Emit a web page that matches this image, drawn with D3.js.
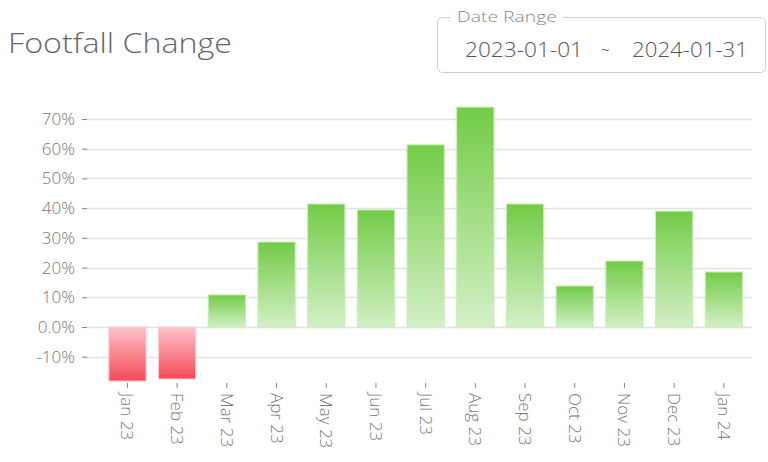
<!DOCTYPE html>
<html>
  <head>
    <meta charset="utf-8" />
    <script src="https://cdn.jsdelivr.net/npm/d3@7"></script>
    <style>
      body {
        margin: 0;
        background: #fff;
        font-family: "Open Sans", "Noto Sans", sans-serif;
      }
    </style>
  </head>
  <body>
    <script>
      // values (percent change)
      var months = ["Jan 23", "Feb 23", "Mar 23", "Apr 23", "May 23", "Jun 23", "Jul 23",
        "Aug 23", "Sep 23", "Oct 23", "Nov 23", "Dec 23", "Jan 24"];
      var change = [-18.2, -17.5, 10.8, 28.6, 41.4, 39.4, 61.3, 74.0, 41.4, 13.8, 22.2, 39.0, 18.5];
      var yTicks = [-10, 0, 10, 20, 30, 40, 50, 60, 70];
      var dateFrom = "2023-01-01";
      var dateTo = "2024-01-31";

      var width = 768, height = 462;

      var svg = d3.select("body").append("svg")
        .attr("width", width)
        .attr("height", height);

      var defs = svg.append("defs");
      var gGreen = defs.append("linearGradient").attr("id", "green")
        .attr("x1", 0).attr("y1", 0).attr("x2", 0).attr("y2", 1);
      gGreen.append("stop").attr("offset", "0%").attr("stop-color", "#72cc46");
      gGreen.append("stop").attr("offset", "100%").attr("stop-color", "#d3f0c6");
      var gRed = defs.append("linearGradient").attr("id", "red")
        .attr("x1", 0).attr("y1", 0).attr("x2", 0).attr("y2", 1);
      gRed.append("stop").attr("offset", "0%").attr("stop-color", "#fdc3ca");
      gRed.append("stop").attr("offset", "100%").attr("stop-color", "#f6495a");

      // title
      svg.append("text")
        .attr("x", 8).attr("y", 53)
        .attr("font-size", 27)
        .attr("font-weight", 300)
        .attr("fill", "#666")
        .attr("textLength", 224)
        .attr("lengthAdjust", "spacingAndGlyphs")
        .text("Footfall Change");

      // date range box
      svg.append("rect")
        .attr("x", 437.5).attr("y", 17.5)
        .attr("width", 328).attr("height", 55)
        .attr("rx", 5)
        .attr("fill", "none")
        .attr("stroke", "#cfcfcf");
      svg.append("rect")
        .attr("x", 450).attr("y", 10)
        .attr("width", 113).attr("height", 14)
        .attr("fill", "#fff");
      svg.append("text")
        .attr("x", 457).attr("y", 22)
        .attr("font-size", 15)
        .attr("font-weight", 300)
        .attr("fill", "#888")
        .attr("textLength", 100)
        .attr("lengthAdjust", "spacingAndGlyphs")
        .text("Date Range");
      svg.append("text")
        .attr("x", 465).attr("y", 57)
        .attr("font-size", 21)
        .attr("font-weight", 300)
        .attr("fill", "#555")
        .attr("textLength", 118)
        .attr("lengthAdjust", "spacingAndGlyphs")
        .text(dateFrom);
      svg.append("text")
        .attr("x", 601).attr("y", 55)
        .attr("font-size", 15)
        .attr("fill", "#666")
        .text("~");
      svg.append("text")
        .attr("x", 632).attr("y", 57)
        .attr("font-size", 21)
        .attr("font-weight", 300)
        .attr("fill", "#555")
        .attr("textLength", 116)
        .attr("lengthAdjust", "spacingAndGlyphs")
        .text(dateTo);

      // scales
      var y = d3.scaleLinear()
        .domain([0, 70])
        .range([327, 119]);

      var x = d3.scaleBand()
        .domain(months)
        .range([102.6, 748.7])
        .paddingInner(0.25)
        .paddingOuter(0.125);

      // grid
      svg.append("g")
        .selectAll("line")
        .data(yTicks)
        .enter()
        .append("line")
        .attr("x1", 83).attr("x2", 752)
        .attr("y1", function (d) { return Math.round(y(d)) + 0.5; })
        .attr("y2", function (d) { return Math.round(y(d)) + 0.5; })
        .attr("stroke", "#e3e3e3")
        .attr("stroke-width", 1.5);

      // y axis
      var yAxis = svg.append("g")
        .attr("transform", "translate(87,0)")
        .call(d3.axisLeft(y)
          .tickValues(yTicks)
          .tickSize(5)
          .tickPadding(7)
          .tickFormat(function (d) { return d === 0 ? "0.0%" : d + "%"; }));
      yAxis.select(".domain").remove();
      yAxis.selectAll("line").attr("stroke", "#888");
      yAxis.selectAll("text")
        .attr("font-family", "'Open Sans', sans-serif")
        .attr("font-size", 17)
        .attr("font-weight", 300)
        .attr("fill", "#777");

      // bars
      svg.append("g")
        .selectAll("rect")
        .data(change)
        .enter()
        .append("rect")
        .attr("x", function (d, i) { return x(months[i]); })
        .attr("width", x.bandwidth())
        .attr("y", function (d) { return d >= 0 ? y(d) : y(0); })
        .attr("height", function (d) { return Math.abs(y(d) - y(0)); })
        .attr("fill", function (d) { return d >= 0 ? "url(#green)" : "url(#red)"; })
        .attr("stroke", function (d) { return d >= 0 ? "#c8efb4" : "#fbd0d5"; })
        .attr("stroke-width", 1);

      // x axis
      var xAxis = svg.append("g")
        .attr("transform", "translate(0,383)")
        .call(d3.axisBottom(x).tickSize(5).tickPadding(4));
      xAxis.select(".domain").remove();
      xAxis.selectAll("line").attr("stroke", "#888");
      xAxis.selectAll("text")
        .attr("font-family", "'Open Sans', sans-serif")
        .attr("font-size", 17)
        .attr("font-weight", 300)
        .attr("fill", "#777")
        .attr("transform", "rotate(90)")
        .attr("text-anchor", "start")
        .attr("dy", "0.35em")
        .attr("x", 10)
        .attr("y", 0);
    </script>
  </body>
</html>
